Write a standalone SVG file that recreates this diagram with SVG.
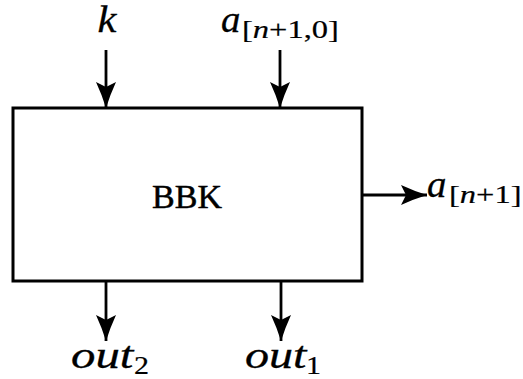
<svg xmlns="http://www.w3.org/2000/svg" width="523" height="379" viewBox="0 0 523 379">
<defs>
<marker id="ah" viewBox="0 0 26 20" refX="26" refY="10" markerWidth="26" markerHeight="20" markerUnits="userSpaceOnUse" orient="auto">
<path d="M0,0 Q13,6 26,10 Q13,14 0,20 L5,10 Z" fill="#000"/>
</marker>
<style>
.ln{stroke:#000;stroke-width:2.8;fill:none;marker-end:url(#ah)}
.m{font-family:"Liberation Serif","Times New Roman",serif;font-style:italic;font-size:37px;fill:#000;stroke:#000;stroke-width:0.3}
.s{font-family:"Liberation Serif","Times New Roman",serif;font-size:25px;fill:#000;stroke:#000;stroke-width:0.2}
.si{font-style:italic}
.t{font-family:"Liberation Serif","Times New Roman",serif;font-size:34px;fill:#000;stroke:#000;stroke-width:0.5}
</style>
</defs>
<rect width="523" height="379" fill="#fff"/>
<g id="connectors">
<line class="ln" x1="106" y1="50" x2="106" y2="108"/>
<line class="ln" x1="280" y1="50" x2="280" y2="108"/>
<line class="ln" x1="106" y1="282" x2="106" y2="341"/>
<line class="ln" x1="281" y1="282" x2="281" y2="341"/>
<line class="ln" x1="362" y1="195" x2="427" y2="195"/>
</g>
<g id="bbk">
<rect x="13" y="108" width="349" height="173" fill="#fff" stroke="#000" stroke-width="3"/>
<text class="t" x="187" y="208" text-anchor="middle">BBK</text>
</g>
<g id="label-k">
<text class="m" transform="translate(107,32) scale(1.15,1)" text-anchor="middle">k</text>
</g>
<g id="label-a-in">
<text class="m" transform="translate(221,32) scale(1.05,1)">a</text>
<text class="s" transform="translate(242,38) scale(1.3,1)">[<tspan class="si">n</tspan>+1,0]</text>
</g>
<g id="label-a-out">
<text class="m" transform="translate(427,197) scale(1.05,1)">a</text>
<text class="s" transform="translate(449,203) scale(1.3,1)">[<tspan class="si">n</tspan>+1]</text>
</g>
<g id="label-out2">
<text class="m" transform="translate(71,368) scale(1.32,1)">out</text>
<text class="s" transform="translate(134,374) scale(1.2,1)">2</text>
</g>
<g id="label-out1">
<text class="m" transform="translate(245,368) scale(1.3,1)">out</text>
<text class="s" transform="translate(306,374) scale(1.2,1)">1</text>
</g>
</svg>
